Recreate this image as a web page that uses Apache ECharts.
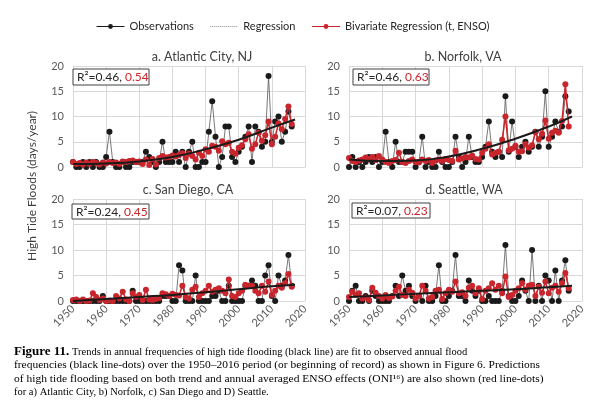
<!DOCTYPE html>
<html><head><meta charset="utf-8">
<script src="https://cdn.jsdelivr.net/npm/echarts@6/dist/echarts.min.js"></script>
<style>html,body{margin:0;padding:0;background:#fff}#c{width:600px;height:409px}</style>
</head><body><div id="c"></div>
<script>
const startYear = 1950;
const obsA = [1,0,0,1,0,1,0,1,0,0, 2,7,1,0,0,1,0,0,1,1, 1,1,3,2,1,0,1,5,1,1, 1,3,1,3,0,3,5,0,0,1, 1,7,13,6,0,2,8,8,2,1, 3,4,6,8,1,8,7,4,5,18, 5,9,10,5,7,11,8];
const bivA = [1.0,0.6,0.8,0.5,0.9,0.6,1.0,0.8,0.5,0.9, 0.7,1.0,0.8,0.9,0.6,1.1,1.0,1.2,1.3,1.0, 1.1,0.6,1.5,0.4,1.6,0.5,1.8,2.2,1.9,2.0, 2.3,2.1,2.4,2.7,1.8,2.6,2.2,1.5,2.8,2.2, 3.5,3.0,4.2,4.0,3.2,5.1,4.5,4.8,3.0,2.6, 3.8,4.3,5.5,6.5,3.6,4.5,6.8,5.2,6.3,9.0, 4.5,6.0,8.6,7.5,9.5,12.0,8.5];
const obsB = [0,2,0,1,0,1,2,1,2,0, 1,7,1,0,5,1,1,3,3,3, 0,1,6,0,1,0,0,3,1,0, 0,1,6,2,0,1,6,2,1,1, 2,4,9,3,2,3,2,14,3,9, 4,2,4,5,3,4,7,4,6,15, 4,6,9,7,8,14,11];
const bivB = [1.8,1.2,1.0,1.3,1.5,1.9,1.6,2.0,1.4,2.2, 1.5,1.0,0.8,1.2,1.4,2.8,1.0,0.8,1.2,1.5, 1.0,0.9,1.5,1.2,1.4,0.8,1.3,1.5,1.2,1.6, 1.4,1.2,3.2,1.5,1.7,2.0,1.9,2.3,1.6,1.5, 2.8,3.6,4.5,2.5,2.8,3.0,5.4,10.0,3.3,3.6, 4.2,3.0,3.1,4.5,3.8,4.3,6.9,5.5,6.6,9.2, 5.6,6.8,7.2,6.8,9.1,16.4,8.0];
const obsC = [0,0,0,0,0,0,0,0,0,1, 0,0,0,0,0,0,0,0,2,0, 0,0,0,0,0,0,0,1,1,1, 0,0,7,6,0,0,0,5,0,0, 0,0,1,1,2,0,0,3,0,0, 0,0,3,3,4,3,0,0,5,7, 1,0,5,3,4,9,3];
const bivC = [0.2,0.3,0.0,0.3,0.0,0.1,1.5,0.8,0.2,0.5, 0.0,0.1,0.0,1.0,0.5,1.8,0.3,0.0,1.5,0.8, 1.2,0.2,2.2,0.3,0.2,0.4,0.6,1.5,1.3,1.0, 1.4,1.2,1.1,3.0,0.8,0.5,2.2,2.8,0.8,1.5, 2.0,3.0,1.8,2.2,2.5,2.0,1.5,4.2,1.0,0.8, 1.5,2.0,3.2,3.0,3.0,2.0,1.5,3.0,1.8,3.8, 1.2,2.0,3.0,2.6,3.5,5.3,2.8];
const obsD = [0,2,3,0,0,1,0,2,1,0, 0,0,0,1,3,1,5,2,3,1, 0,1,0,3,0,0,1,7,0,0, 1,2,9,1,1,0,4,2,1,2, 0,0,1,0,0,0,2,11,1,0, 0,1,4,2,0,10,0,3,0,5, 4,0,6,0,4,8,2];
const bivD = [0.8,1.8,1.2,1.5,0.5,0.7,0.2,2.6,1.6,1.0, 0.5,1.2,0.6,0.9,2.0,2.8,1.2,1.0,2.2,1.6, 0.5,1.0,3.0,2.0,0.5,0.8,2.0,2.2,0.4,1.5, 2.2,1.8,3.8,1.5,1.7,1.0,2.6,3.0,1.5,2.5, 0.4,2.0,2.5,3.5,2.2,3.0,1.5,4.8,0.8,1.2, 2.0,2.5,3.5,2.2,3.0,3.2,1.0,2.8,1.6,3.8, 1.5,2.6,3.0,1.8,3.5,5.5,2.5];
const regYears = [1950,1960,1970,1980,1990,2000,2010,2017];
const regA = [0.6,0.7,1.1,2.0,3.5,5.4,7.8,9.4];
const regB = [1.5,1.2,1.3,2.1,3.6,5.6,8.0,10.0];
const regC = [0.0,0.4,0.8,1.2,1.7,2.3,2.9,3.2];
const regD = [0.8,1.1,1.4,1.7,2.0,2.3,2.7,3.0];
const titles = ['a. Atlantic City, NJ','b. Norfolk, VA','c. San Diego, CA','d. Seattle, WA'];
const r2Trend = ['0.46','0.46','0.24','0.07'];
const r2Biv = ['0.54','0.63','0.45','0.23'];
const yTicks = [0,5,10,15,20];
const xTicks = [1950,1960,1970,1980,1990,2000,2010,2020];
const captionHead = 'Figure 11.';
const captionLine1 = ' Trends in annual frequencies of high tide flooding (black line) are fit to observed annual flood';
const captionLines = [
  'frequencies (black line-dots) over the 1950\u20132016 period (or beginning of record) as shown in Figure 6. Predictions',
  'of high tide flooding based on both trend and annual averaged ENSO effects (ONI\u00B9\u2076) are also shown (red line-dots)',
  'for a) Atlantic City, b) Norfolk, c) San Diego and D) Seattle.'
];

const RED = '#c8252c';
const FONT = 'Lato, "Open Sans", sans-serif';
const SERIF = '"Liberation Serif", serif';
const CAP_SIZE = 10.5;
const capStretch = [1.09, 1.095, 1];
const panels = [
  {obs: obsA, biv: bivA, reg: regA},
  {obs: obsB, biv: bivB, reg: regB},
  {obs: obsC, biv: bivC, reg: regC},
  {obs: obsD, biv: bivD, reg: regD}
];
const grids = [
  {left: 73, top: 66, width: 232, height: 101},
  {left: 349, top: 66, width: 233, height: 101},
  {left: 73, top: 199, width: 232, height: 102},
  {left: 349, top: 199, width: 233, height: 102}
];
const titlePos = [[202,57],[463,57],[188,190],[464,190]];
const boxPos = [[73,69,76,16],[353,69,76,16],[72,204,77,15],[352,203,78,15]];

const xAxis = [], yAxis = [], series = [], graphic = [];
grids.forEach((g, i) => {
  const bottom = i >= 2;
  xAxis.push({
    type: 'value', gridIndex: i, min: xTicks[0], max: xTicks[xTicks.length-1], interval: 10,
    axisLine: {show: true, lineStyle: {color: '#d9d9d9'}},
    axisTick: {show: false},
    axisLabel: {show: bottom, rotate: 45, fontSize: 11, color: '#595959', fontFamily: FONT, margin: 6,
      formatter: v => String(v)},
    splitLine: {show: true, lineStyle: {color: '#d9d9d9', width: 1}}
  });
  yAxis.push({
    type: 'value', gridIndex: i, min: yTicks[0], max: yTicks[yTicks.length-1], interval: 5,
    axisLine: {show: false}, axisTick: {show: false},
    axisLabel: {fontSize: 11, color: '#595959', fontFamily: FONT, margin: 9},
    splitLine: {lineStyle: {color: '#d9d9d9', width: 1}}
  });
  const p = panels[i];
  series.push({
    name: 'Observations', type: 'line', xAxisIndex: i, yAxisIndex: i,
    data: p.obs.map((v, k) => [startYear + k, v]),
    symbol: 'circle', symbolSize: 6, showSymbol: true,
    lineStyle: {color: '#555', width: 0.8}, itemStyle: {color: '#1a1a1a'},
    z: 2, animation: false
  });
  series.push({
    name: 'Bivariate Regression (t, ENSO)', type: 'line', xAxisIndex: i, yAxisIndex: i,
    data: p.biv.map((v, k) => [startYear + k, v]),
    symbol: 'circle', symbolSize: 6,
    lineStyle: {color: RED, width: 1.5}, itemStyle: {color: RED},
    z: 3, animation: false
  });
  series.push({
    name: 'Regression', type: 'line', xAxisIndex: i, yAxisIndex: i,
    data: regYears.map((y, k) => [y, p.reg[k]]),
    symbol: 'none', smooth: true,
    lineStyle: {color: '#1a1a1a', width: 2}, itemStyle: {color: '#1a1a1a'},
    z: 4, animation: false
  });
  graphic.push({
    type: 'text', x: titlePos[i][0], y: titlePos[i][1],
    style: {text: titles[i], fontSize: 12.5, fill: '#404040', fontFamily: FONT, align: 'center', verticalAlign: 'middle'}
  });
  const b = boxPos[i];
  graphic.push({
    type: 'rect', shape: {x: b[0], y: b[1], width: b[2], height: b[3]},
    style: {fill: '#fff', stroke: '#404040', lineWidth: 1}, z: 10
  });
  graphic.push({
    type: 'text', x: b[0] + 4, y: b[1] + b[3] / 2 + 0.5, z: 11,
    style: {
      text: 'R\u00B2=' + r2Trend[i] + ', {r|' + r2Biv[i] + '}',
      rich: {r: {fill: RED, fontSize: 12, fontFamily: FONT}},
      fontSize: 12, fill: '#262626', fontFamily: FONT, verticalAlign: 'middle'
    }
  });
});

graphic.push({
  type: 'text', x: 32, y: 186, rotation: Math.PI / 2,
  style: {text: 'High Tide Floods (days/year)', fontSize: 12, fill: '#404040', fontFamily: FONT, align: 'center', verticalAlign: 'middle'}
});

const capLeft = 14;
graphic.push({
  type: 'text', x: capLeft, y: 352,
  style: {
    text: '{b|' + captionHead + '}' + captionLine1,
    rich: {b: {fontWeight: 'bold', fontSize: 13, fontFamily: SERIF, fill: '#000'}},
    fontSize: CAP_SIZE, fontFamily: SERIF, fill: '#000', verticalAlign: 'middle'
  }
});
captionLines.forEach((t, k) => {
  graphic.push({
    type: 'text', x: capLeft, y: 365.5 + 13.5 * k, scaleX: capStretch[k], scaleY: 1,
    style: {text: t, fontSize: CAP_SIZE, fontFamily: SERIF, fill: '#000', verticalAlign: 'middle'}
  });
});

const chart = echarts.init(document.getElementById('c'), null, {renderer: 'canvas'});
chart.setOption({
  animation: false,
  backgroundColor: '#fff',
  legend: {
    left: 96, top: 21, padding: 0, itemGap: 16, itemWidth: 28, itemHeight: 6,
    textStyle: {fontSize: 11, color: '#262626', fontFamily: FONT},
    data: [
      {name: 'Observations', itemStyle: {color: '#1a1a1a'}, lineStyle: {color: '#1a1a1a', width: 1}},
      {name: 'Regression', itemStyle: {opacity: 0}, lineStyle: {color: '#8c8c8c', width: 1, type: 'dotted'}},
      {name: 'Bivariate Regression (t, ENSO)', itemStyle: {color: RED}, lineStyle: {color: RED, width: 1}}
    ]
  },
  grid: grids,
  xAxis: xAxis,
  yAxis: yAxis,
  series: series,
  graphic: graphic
});
</script></body></html>
